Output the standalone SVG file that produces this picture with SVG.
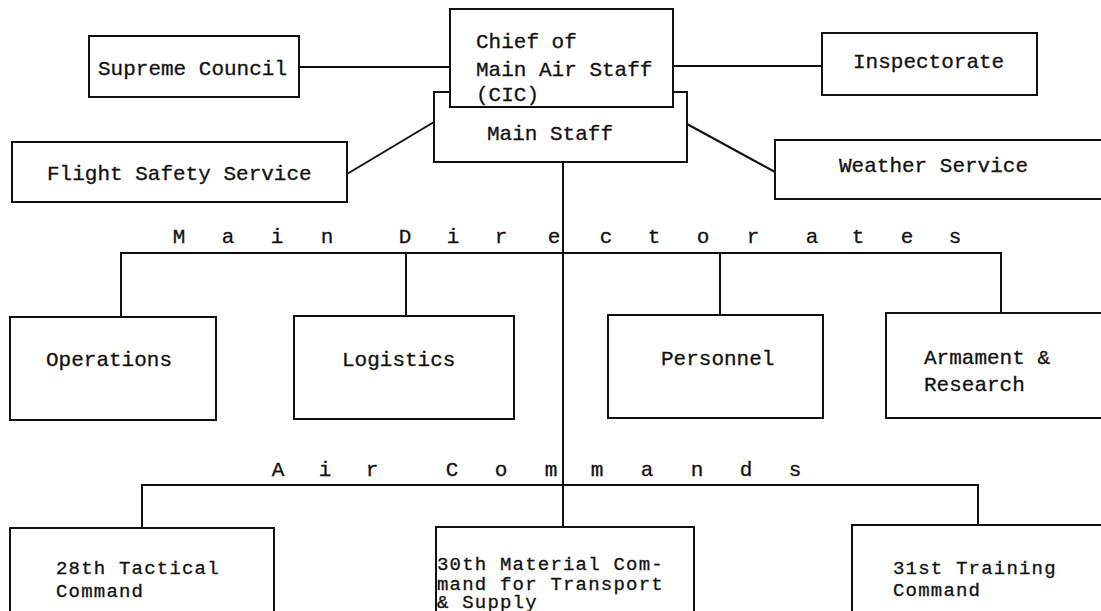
<svg xmlns="http://www.w3.org/2000/svg" width="1101" height="611" viewBox="0 0 1101 611">
<style>
  .box{fill:#fff;stroke:#111;stroke-width:2}
  .ln{fill:none;stroke:#111;stroke-width:2}
  text{font-family:"Liberation Mono","Courier New",monospace;font-size:21px;fill:#111;stroke:#111;stroke-width:0.3}
  .sp{text-anchor:middle}
  .sm{font-size:19px;letter-spacing:1.2px}
</style>
<rect width="1101" height="611" fill="#fff"/>
<g id="connectors">
  <line class="ln" x1="299" y1="67" x2="450" y2="67"/>
  <line class="ln" x1="673" y1="66" x2="822" y2="66"/>
  <line class="ln" x1="347" y1="174" x2="434" y2="122"/>
  <line class="ln" x1="687" y1="124" x2="775" y2="172"/>
  <line class="ln" x1="563" y1="162" x2="563" y2="527"/>
  <polyline class="ln" points="121,317 121,253 1001,253 1001,313"/>
  <line class="ln" x1="406" y1="253" x2="406" y2="316"/>
  <line class="ln" x1="720" y1="253" x2="720" y2="315"/>
  <polyline class="ln" points="142,528 142,485 978,485 978,525"/>
</g>
<g id="label-main-directorates">
  <text class="sp" y="243" x="179 203 228 252 277 302 327 366 405 429 453 477 501 527 554 580 606 630 654 678 703 728 753 782 812 835 858 882 907 931 955">M a i n D i r e c t o r a t e s</text>
</g>
<g id="label-air-commands">
  <text class="sp" y="476" x="278 301 325 348 372 412 452 476 501 526 551 574 597 622 647 672 697 721 746 770 795">A i r C o m m a n d s</text>
</g>
<g id="main-staff">
  <rect class="box" x="434" y="92" width="253" height="70"/>
  <text x="487" y="140">Main Staff</text>
</g>
<g id="chief">
  <rect class="box" x="450" y="9" width="223" height="98"/>
  <text x="476" y="48">Chief of</text>
  <text x="476" y="76">Main Air Staff</text>
  <text x="476" y="101">(CIC)</text>
</g>
<g id="supreme-council">
  <rect class="box" x="89" y="36" width="210" height="61"/>
  <text x="98" y="75">Supreme Council</text>
</g>
<g id="inspectorate">
  <rect class="box" x="822" y="33" width="215" height="62"/>
  <text x="853" y="68">Inspectorate</text>
</g>
<g id="flight-safety">
  <rect class="box" x="12" y="142" width="335" height="60"/>
  <text x="47" y="180">Flight Safety Service</text>
</g>
<g id="weather">
  <rect class="box" x="775" y="140" width="340" height="59"/>
  <text x="839" y="172">Weather Service</text>
</g>
<g id="operations">
  <rect class="box" x="10" y="317" width="206" height="103"/>
  <text x="46" y="366">Operations</text>
</g>
<g id="logistics">
  <rect class="box" x="294" y="316" width="220" height="103"/>
  <text x="342" y="366">Logistics</text>
</g>
<g id="personnel">
  <rect class="box" x="608" y="315" width="215" height="103"/>
  <text x="661" y="365">Personnel</text>
</g>
<g id="armament">
  <rect class="box" x="886" y="313" width="230" height="105"/>
  <text x="924" y="364">Armament &amp;</text>
  <text x="924" y="391">Research</text>
</g>
<g id="tactical-28">
  <rect class="box" x="10" y="528" width="264" height="100"/>
  <text class="sm" x="56" y="574">28th Tactical</text>
  <text class="sm" x="56" y="597">Command</text>
</g>
<g id="material-30">
  <rect class="box" x="436" y="527" width="258" height="100"/>
  <text class="sm" x="437" y="570">30th Material Com-</text>
  <text class="sm" x="437" y="590">mand for Transport</text>
  <text class="sm" x="437" y="608">&amp; Supply</text>
</g>
<g id="training-31">
  <rect class="box" x="852" y="525" width="260" height="100"/>
  <text class="sm" x="893" y="574">31st Training</text>
  <text class="sm" x="893" y="596">Command</text>
</g>
</svg>
